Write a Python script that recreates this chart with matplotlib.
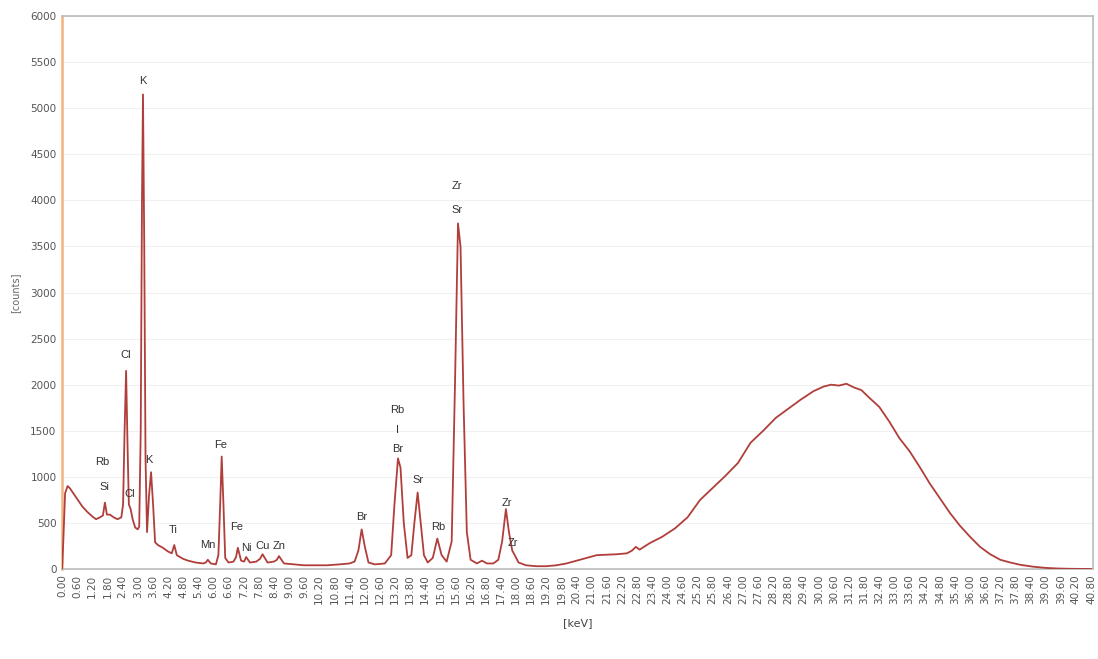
import matplotlib.pyplot as plt
import numpy as np

# traced spectrum (energy in keV, counts)
energy = [0.00, 0.05, 0.12, 0.22, 0.30, 0.45, 0.60, 0.80, 1.00, 1.20, 1.35, 1.50, 1.62,
          1.70, 1.78, 1.90, 2.05, 2.20, 2.35, 2.42, 2.48, 2.54, 2.60, 2.65, 2.72, 2.80,
          2.90, 3.00, 3.06, 3.12, 3.17, 3.21, 3.26, 3.31, 3.37, 3.45, 3.53, 3.61, 3.69,
          3.80, 4.00, 4.20, 4.35, 4.45, 4.55, 4.80, 5.00, 5.30, 5.60, 5.70, 5.78, 5.90,
          6.10, 6.20, 6.27, 6.33, 6.40, 6.47, 6.60, 6.80, 6.90, 6.97, 7.10, 7.22, 7.30,
          7.45, 7.70, 7.85, 7.95, 8.15, 8.40, 8.52, 8.60, 8.80, 9.20, 9.60, 10.00, 10.50,
          11.00, 11.40, 11.60, 11.75, 11.88, 12.00, 12.15, 12.40, 12.80, 13.05, 13.18,
          13.32, 13.42, 13.55, 13.70, 13.85, 13.97, 14.10, 14.22, 14.35, 14.50, 14.70,
          14.88, 15.05, 15.25, 15.45, 15.58, 15.70, 15.80, 15.92, 16.05, 16.20, 16.45,
          16.65, 16.85, 17.10, 17.30, 17.45, 17.60, 17.72, 17.85, 17.95, 18.10, 18.40,
          18.80, 19.20, 19.60, 20.00, 20.40, 20.80, 21.20, 21.60, 22.00, 22.40, 22.60,
          22.75, 22.90, 23.30, 23.80, 24.30, 24.80, 25.30, 25.80, 26.30, 26.80, 27.30,
          27.80, 28.30, 28.80, 29.30, 29.80, 30.20, 30.50, 30.80, 31.10, 31.40, 31.70,
          32.00, 32.40, 32.80, 33.20, 33.60, 34.00, 34.40, 34.80, 35.20, 35.60, 36.00,
          36.40, 36.80, 37.20, 37.60, 38.00, 38.50, 39.00, 39.50, 40.00, 40.80]
counts = [0, 300, 820, 900, 880, 820, 760, 680, 620, 570, 540, 560, 580,
          720, 590, 590, 560, 540, 560, 700, 1500, 2150, 1300, 700, 650, 540,
          450, 430, 460, 1500, 4000, 5150, 3500, 1200, 400, 800, 1050, 700, 290,
          260, 230, 190, 170, 260, 150, 110, 90, 70, 60, 70, 100, 60,
          50, 150, 700, 1220, 700, 120, 70, 80, 130, 230, 90, 80, 130,
          70, 80, 110, 160, 70, 80, 100, 140, 60, 50, 40, 40, 40,
          50, 60, 80, 200, 430, 250, 70, 50, 60, 150, 700,
          1200, 1100, 500, 120, 150, 500, 830, 500, 150, 70, 120,
          330, 150, 80, 300, 2000, 3750, 3500, 1800, 400, 100, 60,
          90, 60, 60, 100, 300, 650, 400, 200, 150, 70, 40,
          30, 30, 40, 60, 90, 120, 150, 155, 160, 170, 200,
          240, 210, 280, 350, 440, 560, 750, 880, 1010, 1150, 1370,
          1500, 1640, 1740, 1840, 1930, 1980, 2000, 1990, 2010, 1970, 1940,
          1860, 1760, 1600, 1420, 1280, 1110, 930, 770, 610, 470, 350,
          240, 160, 100, 70, 45, 25, 12, 5, 2, 0]

# element labels: text, energy, counts
label_text = ['K', 'Cl', 'Rb', 'Si', 'Cl', 'K', 'Ti', 'Fe', 'Mn', 'Fe', 'Ni', 'Cu', 'Zn',
              'Br', 'Rb', 'I', 'Br', 'Sr', 'Rb', 'Zr', 'Sr', 'Zr', 'Zr']
label_x = [3.21, 2.54, 1.59, 1.67, 2.70, 3.45, 4.40, 6.27, 5.79, 6.94, 7.30, 7.97, 8.60,
           11.90, 13.28, 13.30, 13.30, 14.12, 14.91, 15.66, 15.66, 17.64, 17.88]
label_y = [5300, 2322, 1163, 890, 814, 1183, 423, 1345, 260, 456, 228, 250, 250,
           564, 1725, 1510, 1302, 966, 456, 4160, 3900, 716, 282]

x_ticks = np.arange(0, 40.81, 0.6)
y_ticks = np.arange(0, 6001, 500)

fig = plt.figure(figsize=(10.98, 6.59), dpi=100)
ax = fig.add_axes([0.0565, 0.1366, 0.939, 0.839])

ax.plot(energy, counts, color='#b03e3a', lw=1.3, zorder=3)

for t, x, y in zip(label_text, label_x, label_y):
    ax.text(x, y, t, ha='center', va='center', fontsize=8, color='#333333',
            family='Liberation Sans', zorder=4)

ax.set_xlim(0, 40.88)
ax.set_ylim(0, 6000)
ax.set_xticks(x_ticks)
ax.set_xticklabels(['%.2f' % v for v in x_ticks], rotation=90, fontsize=7.5, color='#555555')
ax.set_yticks(y_ticks)
ax.set_yticklabels(['%d' % v for v in y_ticks], fontsize=7.5, color='#555555')
ax.tick_params(length=0, pad=4)
ax.yaxis.grid(True, color='#f0f0f0', lw=0.8)
ax.set_axisbelow(True)

for s in ['top', 'right', 'bottom']:
    ax.spines[s].set_color('#bbbbbb')
    ax.spines[s].set_linewidth(1.2)
ax.spines['left'].set_color('#f2b27a')
ax.spines['left'].set_linewidth(1.8)

ax.set_xlabel('[keV]', fontsize=8, color='#444444', labelpad=10)
ax.set_ylabel('[counts]', fontsize=7, color='#666666', labelpad=7)

fig.savefig('out.png', dpi=100)
